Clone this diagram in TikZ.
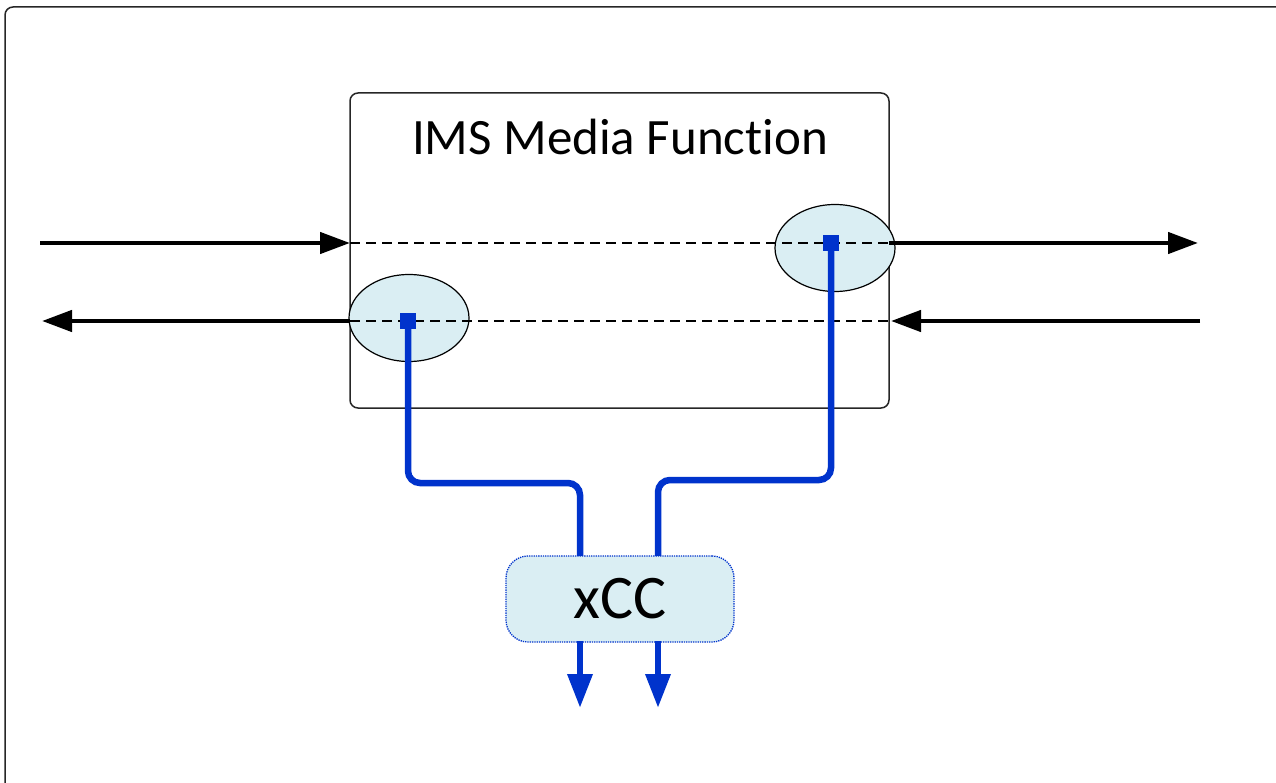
\documentclass[tikz,border=0pt]{standalone}
\usepackage{fontspec}
\setmainfont{Carlito}[Ligatures=NoCommon]
\usetikzlibrary{arrows.meta,shapes.geometric}
\definecolor{lblue}{HTML}{DAEEF3}
\definecolor{dblue}{HTML}{0033CC}
\tikzset{
  frame/.style={draw=black!85,line width=1.5pt,rounded corners=8pt},
  port/.style={ellipse,draw=black,line width=1.2pt,fill=lblue,minimum width=120pt,minimum height=87pt,inner sep=0pt},
  sq/.style={fill=dblue,minimum size=16pt,inner sep=0pt},
  flow/.style={line width=4.5pt,-{Triangle[length=30pt,width=21pt]}},
  guide/.style={line width=1.2pt,dash pattern=on 10pt off 6pt},
  bl/.style={draw=dblue,line width=6.5pt,rounded corners=12pt},
  blarrow/.style={draw=dblue,line width=6.5pt,-{Triangle[length=34pt,width=24pt]}},
  cc/.style={draw=dblue,densely dotted,line width=1.3pt,fill=lblue,rounded corners=22pt,minimum width=228pt,minimum height=86pt,font=\fontsize{62}{64}\selectfont}
}
\begin{document}
\begin{tikzpicture}[x=1pt,y=-1pt]
\useasboundingbox (0,0) rectangle (1276,783);
\draw[frame] (5,7) rectangle (1300,810);
\draw[frame,line width=1.5pt] (350,93) rectangle (889,408);
\node[font=\fontsize{51}{53}\selectfont] (title) at (620,137) {IMS Media Function};
\node[port] (pl) at (409,318) {};
\node[port] (pr) at (835,248) {};
\coordinate (bl) at (350,243); \coordinate (br) at (889,243);
\coordinate (cl) at (350,321); \coordinate (cr) at (889,321);
\draw[guide] (bl) -- (br);
\draw[guide] (cl) -- (cr);
\coordinate (in1) at (40,243); \coordinate (out1) at (1198,243);
\coordinate (in2) at (1200,321); \coordinate (out2) at (42,321);
\draw[flow] (in1) -- (bl);
\draw[flow] (br) -- (out1);
\draw[flow] (in2) -- (891,321);
\draw[flow] (cl) -- (out2);
\node[sq] (sl) at (408,321) {};
\node[sq] (sr) at (831,243) {};
\coordinate (t1) at (580,708); \coordinate (t2) at (658,708);
\draw[bl] (sl.center) |- (580,483) -- (580,642);
\draw[bl] (sr.center) |- (658,480) -- (658,642);
\node[cc] (xcc) at (620,599) {xCC};
\draw[blarrow] (580,641) -- (t1);
\draw[blarrow] (658,641) -- (t2);
\end{tikzpicture}
\end{document}
